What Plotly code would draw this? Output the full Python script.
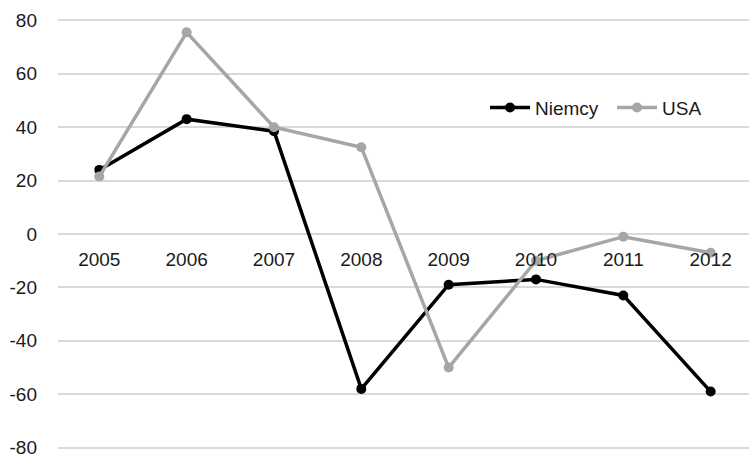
import plotly.graph_objects as go

years = ["2005", "2006", "2007", "2008", "2009", "2010", "2011", "2012"]
niemcy = [24, 43, 38.5, -58, -19, -17, -23, -59]
usa = [21.5, 75.5, 40, 32.5, -50, -10, -1, -7]
y_ticks = [80, 60, 40, 20, 0, -20, -40, -60, -80]
y_labels = [str(v) for v in y_ticks]

FONT = "Liberation Sans, Arial, sans-serif"
TEXT = "#1a1a1a"
GRID = "#d9d9d9"
SIZE = 19

fig = go.Figure()
fig.add_trace(go.Scatter(
    x=years, y=niemcy, name="Niemcy", mode="lines+markers",
    line=dict(color="#000000", width=3.5),
    marker=dict(color="#000000", size=10),
))
fig.add_trace(go.Scatter(
    x=years, y=usa, name="USA", mode="lines+markers",
    line=dict(color="#a6a6a6", width=3.5),
    marker=dict(color="#a6a6a6", size=10),
))

fig.update_layout(
    width=749, height=457,
    margin=dict(l=58, r=0, t=15.4, b=3.7),
    paper_bgcolor="white", plot_bgcolor="white",
    font=dict(family=FONT, size=SIZE, color=TEXT),
    showlegend=True,
    legend=dict(
        orientation="h", x=0.618, y=0.7885, xanchor="left", yanchor="middle",
        font=dict(family=FONT, size=SIZE, color=TEXT),
        bgcolor="rgba(0,0,0,0)", itemwidth=40, entrywidth=72,
    ),
    xaxis=dict(
        type="category", range=[-0.473, 7.439],
        anchor="free", position=0.5,
        showgrid=False, zeroline=False, showline=False,
        ticks="", ticklabelstandoff=12,
        tickfont=dict(family=FONT, size=SIZE, color=TEXT),
    ),
    yaxis=dict(
        range=[-82, 82], tickvals=y_ticks, ticktext=y_labels,
        showgrid=True, gridcolor=GRID, gridwidth=1.5,
        zeroline=False, showline=False, ticks="",
        ticklabelstandoff=20, ticklabeloverflow="allow",
        tickfont=dict(family=FONT, size=SIZE, color=TEXT),
    ),
)

fig.write_html("out.html")
